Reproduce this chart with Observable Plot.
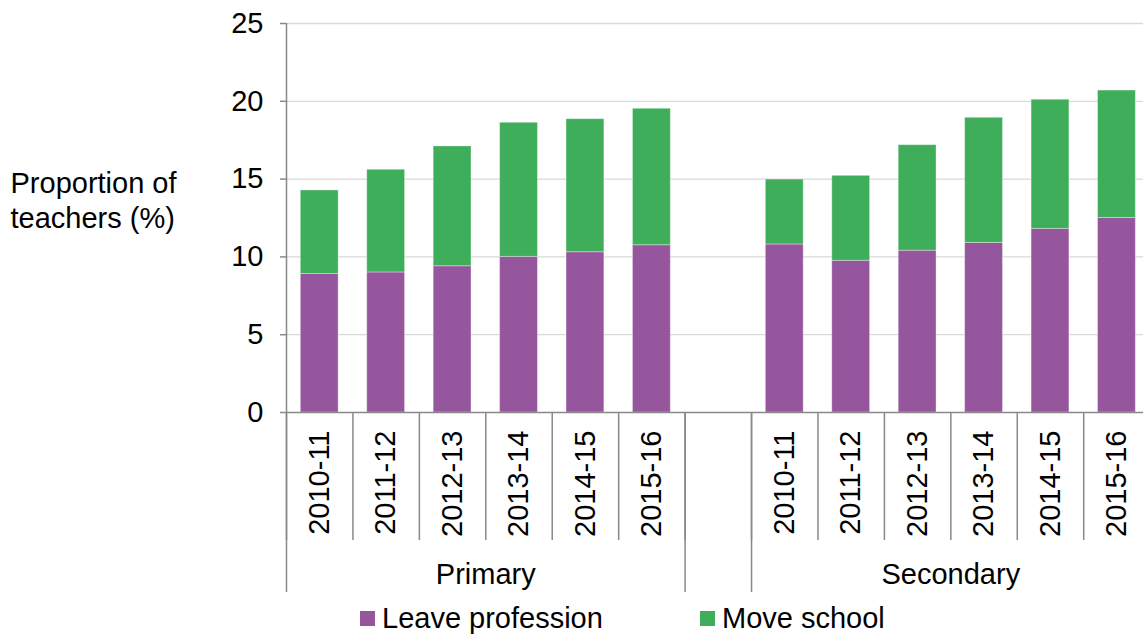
<!DOCTYPE html>
<html>
<head>
<meta charset="utf-8">
<script src="https://cdn.jsdelivr.net/npm/d3@7"></script>
<script src="https://cdn.jsdelivr.net/npm/@observablehq/plot@0.6"></script>
<style>
  body { margin: 0; background: #fff; font-family: "Liberation Sans", Arial, sans-serif; }
  #wrap { width: 1143px; }
  #legend { position: relative; height: 36px; font-size: 29px; color: #000; }
  .item { position: absolute; top: 3px; display: flex; align-items: center; line-height: 34px; }
  .sw { width: 15px; height: 15px; margin-right: 7px; }
</style>
</head>
<body>
<div id="wrap"></div>
<script>
// ---- data ----
const years = ["2010-11", "2011-12", "2012-13", "2013-14", "2014-15", "2015-16"];
const groups = ["Primary", "Secondary"];
const seriesNames = ["Leave profession", "Move school"];
const primaryLeave = [8.9, 9.0, 9.4, 10.0, 10.3, 10.75];
const primaryMove = [5.37, 6.6, 7.7, 8.62, 8.55, 8.77];
const secondaryLeave = [10.8, 9.75, 10.4, 10.9, 11.8, 12.5];
const secondaryMove = [4.17, 5.46, 6.78, 8.04, 8.3, 8.19];
const yTicks = [0, 5, 10, 15, 20, 25];
const colors = ["#95569D", "#3EAE5B"];

// ---- build table ----
const leaveByGroup = [primaryLeave, secondaryLeave];
const moveByGroup = [primaryMove, secondaryMove];
const slotsPerGroup = years.length + 1; // one empty slot between groups
const table = [];
const yearTicks = [];
const yearLabel = new Map();
groups.forEach((g, gi) => {
  years.forEach((yr, i) => {
    const slot = gi * slotsPerGroup + i;
    const lv = leaveByGroup[gi][i], mv = moveByGroup[gi][i];
    table.push({group: g, year: yr, series: seriesNames[0], x1: slot, x2: slot + 1, y1: 0, y2: lv});
    table.push({group: g, year: yr, series: seriesNames[1], x1: slot, x2: slot + 1, y1: lv, y2: lv + mv});
    yearTicks.push(slot + 0.5);
    yearLabel.set(slot + 0.5, yr);
  });
});
const nSlots = groups.length * slotsPerGroup - 1;
const boundaries = d3.range(0, nSlots);
const groupBounds = [0, years.length, slotsPerGroup];
const groupCenters = groups.map((g, gi) => gi * slotsPerGroup + years.length / 2);

const axisColor = "#898989";
const fs = 29;

const chart = Plot.plot({
  width: 1143,
  height: 598,
  marginLeft: 286,
  marginRight: 0,
  marginTop: 23,
  marginBottom: 186,
  x: {domain: [0, nSlots - 0.1]},
  y: {domain: [0, 25]},
  color: {domain: seriesNames, range: colors},
  style: {fontFamily: "'Liberation Sans', Arial, sans-serif", fontSize: fs + "px", color: "#000", background: "#fff", overflow: "visible"},
  marks: [
    Plot.ruleY(yTicks.slice(1), {stroke: "#d9d9d9", strokeWidth: 1.3}),
    Plot.rectY(table, {x1: "x1", x2: "x2", y1: "y1", y2: "y2", fill: "series", insetLeft: 14.3, insetRight: 14.3, stroke: "#fff", strokeOpacity: 0.35, strokeWidth: 1}),
    Plot.ruleY([0], {stroke: axisColor, strokeWidth: 1.5}),
    Plot.ruleX([0], {stroke: axisColor, strokeWidth: 1.5}),
    Plot.axisY(yTicks, {tickSize: 6, tickPadding: 17, label: null, stroke: axisColor, strokeWidth: 1.5, fill: "#000", fontSize: fs}),
    Plot.axisX(boundaries, {tickSize: 128, tickFormat: () => "", label: null, stroke: axisColor, strokeWidth: 1.5}),
    Plot.axisX(groupBounds, {tickSize: 180, tickFormat: () => "", label: null, stroke: axisColor, strokeWidth: 1.5}),
    Plot.axisX(yearTicks, {tickSize: 0, tickPadding: 18, tickRotate: -90, tickFormat: d => yearLabel.get(d), label: null, fill: "#000", fontSize: fs}),
    Plot.axisX(groupCenters, {tickSize: 0, tickPadding: 151, tickFormat: d => groups[groupCenters.indexOf(d)], label: null, fill: "#000", fontSize: fs}),
    Plot.text(["Proportion of\nteachers (%)"], {frameAnchor: "left", textAnchor: "start", dx: -276, dy: -19, lineHeight: 1.2, fontSize: fs, fill: "#000"})
  ]
});
document.getElementById("wrap").appendChild(chart);

// ---- legend ----
const legend = document.createElement("div");
legend.id = "legend";
const lefts = [360, 700];
seriesNames.forEach((s, i) => {
  const it = document.createElement("div");
  it.className = "item";
  it.style.left = lefts[i] + "px";
  const sw = document.createElement("span");
  sw.className = "sw";
  sw.style.background = colors[i];
  const t = document.createElement("span");
  t.textContent = s;
  it.appendChild(sw); it.appendChild(t);
  legend.appendChild(it);
});
document.getElementById("wrap").appendChild(legend);
</script>
</body>
</html>
